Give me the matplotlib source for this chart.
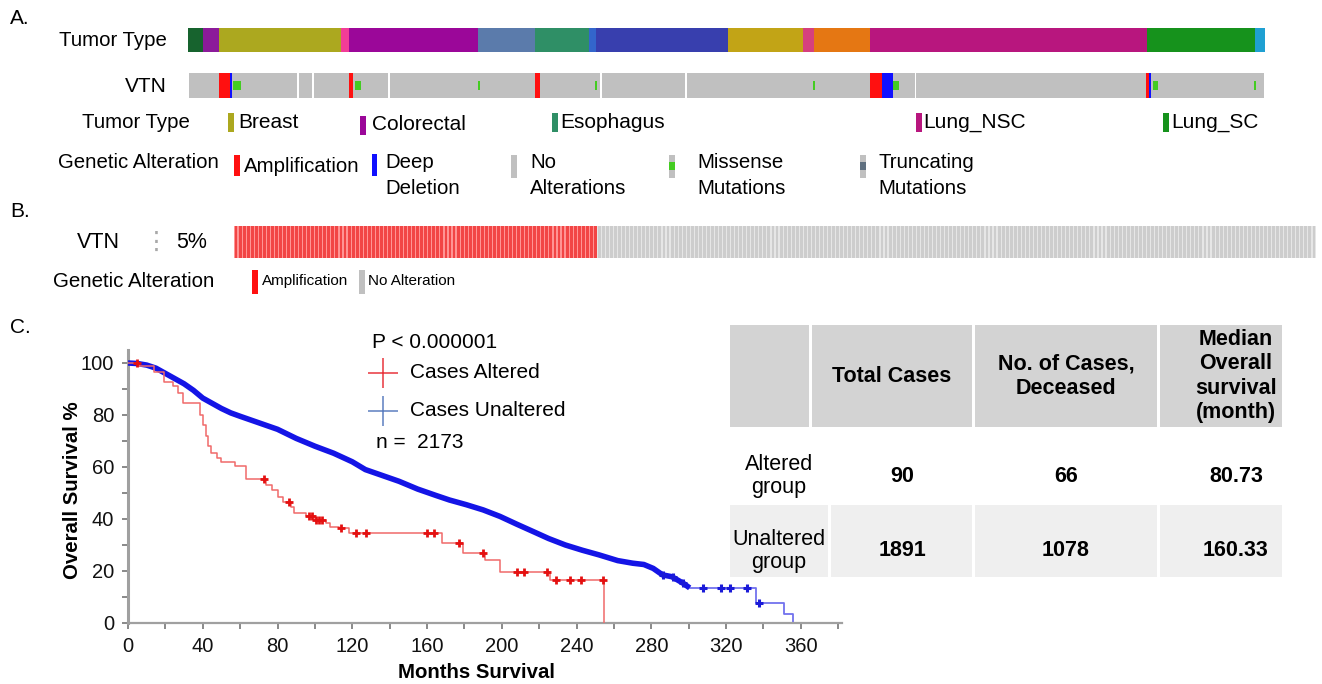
import numpy as np
import matplotlib
matplotlib.use("Agg")
import matplotlib.pyplot as plt
from matplotlib.patches import Rectangle
from matplotlib.lines import Line2D
from matplotlib.ticker import MultipleLocator

plt.rcParams['font.family'] = ['Liberation Sans', 'DejaVu Sans']

# ---------------- data ----------------
# Panel A: tumor type blocks (samples per type, in oncoprint order)
tumor_names = ['Other_1', 'Other_2', 'Breast', 'Other_3', 'Colorectal', 'Other_4',
               'Esophagus', 'Other_5', 'Other_6', 'Other_7', 'Other_8', 'Other_9',
               'Lung_NSC', 'Lung_SC', 'Other_10']
tumor_counts = [30, 32, 245, 16, 258, 114, 108, 14, 264, 150, 22, 112, 553, 216, 21]
tumor_colors = ['#17632e', '#8c1b9a', '#aca81f', '#f23d97', '#9b0799', '#5b7bab',
                '#2f8f66', '#3366cc', '#383fae', '#c2a416', '#d6407e', '#e57713',
                '#b8167e', '#16921c', '#1fa0d2']
legend_tumor_types = ['Breast', 'Colorectal', 'Esophagus', 'Lung_NSC', 'Lung_SC']

# VTN row: sample-block boundaries (white separators) and alterations
vtn_block_edges = [0, 220, 250, 402, 826, 996, 1456, 2155]
vtn_alt_start = [62, 84, 90, 323, 334, 581, 695, 815, 1251, 1365, 1389, 1410, 1917, 1923, 1930, 2133]
vtn_alt_width = [22, 5, 16, 8, 13, 4, 9, 4, 4, 24, 21, 12, 6, 4, 11, 4]
vtn_alt_type = ['amp', 'del', 'mis', 'amp', 'mis', 'mis', 'amp', 'mis', 'mis',
                'amp', 'del', 'mis', 'amp', 'del', 'mis', 'mis']

# Panel B: cases shown
n_amplified = 90
n_not_altered = 178
altered_pct = '5%'

# Panel C: Kaplan-Meier (months, survival %)
red_t = [0, 6, 14, 19, 24, 27, 29.5, 38.5, 40, 41.5, 43, 44.5, 47.5, 50, 57, 63,
         74, 77, 80, 83, 87, 89, 95, 100, 106, 108, 113, 118, 168, 179, 191, 199, 226, 254.5]
red_s = [100, 99, 96.7, 92.8, 91, 88.3, 84.5, 80, 76, 72, 68, 65.3, 63.5, 62, 60.5, 55.5,
         53, 51, 48.5, 46.5, 44.5, 42.5, 41, 39.5, 38.5, 37, 36.4, 34.7, 30.6, 27, 24.3, 19.7, 16.5, 0]
red_censor_t = [5, 72.5, 86, 97, 98.5, 100.5, 102, 104, 114, 122, 127.5, 160, 163.5,
                177, 190, 208, 212, 224, 229, 236.5, 242.5, 254]

blue_t = [0, 5, 10, 15, 20, 25, 30, 35, 40, 45, 50, 55, 60, 70, 80, 90, 100, 110, 120,
          127, 135, 145, 155, 165, 172, 181, 190, 199, 208, 217, 225, 234, 243, 252,
          262, 270, 276, 281, 286, 291, 297, 300.5, 336, 351, 356]
blue_s = [100, 99.8, 99.2, 98, 96, 94, 92, 89.5, 86.5, 84.5, 82.5, 80.8, 79.5, 77, 74.5,
          71, 68, 65.3, 62, 59, 57, 54.5, 51.5, 49, 47.3, 45.5, 43.5, 41, 38, 35.1, 32.5,
          30, 28, 26.2, 24, 23, 22.5, 21, 18.5, 17.8, 15.3, 13.5, 7.7, 3.5, 0]
blue_dense_end = 300.5
blue_censor_t = [286.3, 291.6, 297, 307.7, 317.5, 322, 331, 337.5]

p_value_text = 'P < 0.000001'
n_total = 2173

table_header = ['', 'Total Cases', 'No. of Cases,\nDeceased', 'Median\nOverall\nsurvival\n(month)']
table_groups = ['Altered\ngroup', 'Unaltered\ngroup']
table_total = ['90', '1891']
table_deceased = ['66', '1078']
table_median = ['80.73', '160.33']

# ---------------- helpers ----------------
W, H = 1322, 684
fig = plt.figure(figsize=(W / 100, H / 100), dpi=100)
fig.patch.set_facecolor('white')


def px_ax(x, y, w, h):
    a = fig.add_axes([x / W, 1 - (y + h) / H, w / W, h / H])
    return a


def T(x, y, s, size=14.7, **kw):
    kw.setdefault('va', 'center')
    kw.setdefault('ha', 'left')
    return fig.text(x / W, 1 - y / H, s, fontsize=size, **kw)


def R(x, y, w, h, color):
    fig.add_artist(Rectangle((x / W, 1 - (y + h) / H), w / W, h / H,
                             transform=fig.transFigure, facecolor=color, lw=0))


def strip(a):
    a.set_axis_off()


# ---------------- Panel A ----------------
T(10, 18, 'A.', size=15)
T(167, 40, 'Tumor Type', ha='right')
T(167, 86, 'VTN', ha='right', size=15)

total = sum(tumor_counts)
ax_tt = px_ax(188, 28, 1077, 24)
left = np.concatenate([[0], np.cumsum(tumor_counts)[:-1]])
ax_tt.barh(0, tumor_counts, left=left, height=1, color=tumor_colors, lw=0)
ax_tt.set_xlim(0, total)
ax_tt.set_ylim(-0.5, 0.5)
strip(ax_tt)

ax_v = px_ax(188, 73, 1077, 25)
edges = np.array(vtn_block_edges)
ax_v.barh(0, np.diff(edges) - 3, left=edges[:-1] + 1.5, height=1, color='#c0c0c0', lw=0)
alt_colors = {'amp': '#ff1010', 'del': '#1010ff', 'mis': '#44cc22'}
alt_heights = {'amp': 1.0, 'del': 1.0, 'mis': 0.36}
for s0, w0, ty in zip(vtn_alt_start, vtn_alt_width, vtn_alt_type):
    ax_v.barh(0, w0, left=s0, height=alt_heights[ty], color=alt_colors[ty], lw=0)
ax_v.set_xlim(0, total)
ax_v.set_ylim(-0.5, 0.5)
strip(ax_v)

# Tumor type legend
T(82, 122, 'Tumor Type')
leg_x = {'Breast': (228, 238, 122), 'Colorectal': (360, 372, 125), 'Esophagus': (552, 560, 122),
         'Lung_NSC': (916, 923, 122), 'Lung_SC': (1163, 1171, 122)}
for name in legend_tumor_types:
    sx, tx, ty = leg_x[name]
    R(sx, ty - 9, 6, 19, tumor_colors[tumor_names.index(name)])
    T(tx, ty, name, size=15)

# Genetic alteration legend
T(58, 163, 'Genetic Alteration')
R(234, 155, 6, 21, '#ff1010')
T(244, 167, 'Amplification')
R(372, 154, 5, 22, '#1010ff')
T(385, 163, 'Deep')
T(385, 188, 'Deletion')
R(511, 155, 6, 23, '#c0c0c0')
T(530, 163, 'No')
T(530, 188, 'Alterations')
R(669, 155, 6, 23, '#c0c0c0')
R(669, 162, 6, 8, '#44cc22')
T(697, 163, 'Missense')
T(697, 188, 'Mutations')
R(860, 155, 6, 23, '#c0c0c0')
R(860, 162, 6, 8, '#607080')
T(878, 163, 'Truncating')
T(878, 188, 'Mutations')

# ---------------- Panel B ----------------
T(10, 212, 'B.', size=15)
T(77, 242, 'VTN', size=15.5)
T(156, 242, '\u22ee', size=18, ha='center', color='#a8a8a8', family='DejaVu Sans')
T(176, 242, altered_pct, size=15.5)

ax_b = px_ax(234, 226, 1082, 32)
n_b = n_amplified + n_not_altered
xs = np.arange(n_b)
light = ['#ff9494'] * n_amplified + ['#e6e6e6'] * n_not_altered
dark = ['#f24545'] * n_amplified + ['#cdcdcd'] * n_not_altered
ax_b.bar(xs, 1, width=1.0, color=light, lw=0)
ax_b.bar(xs, 1, width=0.72, color=dark, lw=0)
ax_b.set_xlim(-0.5, n_b - 0.5)
ax_b.set_ylim(0, 1)
strip(ax_b)

T(53, 282, 'Genetic Alteration', size=14.8)
R(252, 270, 6, 24, '#ff1010')
T(262, 281, 'Amplification', size=11)
R(359, 270, 6, 24, '#c0c0c0')
T(368, 281, 'No Alteration', size=11)

# ---------------- Panel C ----------------
T(10, 327, 'C.', size=15)
ax = px_ax(128, 350, 714, 273)
rt, rs = np.array(red_t), np.array(red_s)
bt, bs = np.array(blue_t), np.array(blue_s)


def step_at(tt, ss, q):
    idx = np.searchsorted(tt, q, side='right') - 1
    return ss[idx]


dense = bt <= blue_dense_end
tail = bt >= blue_dense_end
ax.plot(bt[tail], bs[tail], drawstyle='steps-post', color='#7272ee', lw=1.3, zorder=2)
ax.plot(bt[dense], bs[dense], color='#1414e6', lw=4.0, solid_capstyle='butt', zorder=3)
bc = np.array(blue_censor_t)
ax.plot(bc, step_at(bt, bs, bc), ls='none', marker='+', ms=6, mew=2.2, color='#1a1ad8', zorder=4)

ax.plot(rt, rs, drawstyle='steps-post', color='#f06a6a', lw=1.1, zorder=5)
rc = np.array(red_censor_t)
ax.plot(rc, step_at(rt, rs, rc), ls='none', marker='+', ms=6, mew=2.0, color='#e41010', zorder=6)

ax.set_xlim(0, 382)
ax.set_ylim(0, 105)
for sp in ['top', 'right']:
    ax.spines[sp].set_visible(False)
ax.spines['left'].set_color('#a0a0a0')
ax.spines['left'].set_linewidth(2.2)
ax.spines['bottom'].set_color('#a0a0a0')
ax.spines['bottom'].set_linewidth(1.6)
ax.set_xticks(np.arange(0, 361, 40))
ax.set_yticks(np.arange(0, 101, 20))
ax.xaxis.set_minor_locator(MultipleLocator(20))
ax.yaxis.set_minor_locator(MultipleLocator(10))
ax.tick_params(which='both', direction='out', length=4, width=1.3, color='#808080',
               labelsize=14.5, pad=6, labelcolor='#111111')
ax.patch.set_alpha(0)

T(73, 490, 'Overall Survival %', ha='center', rotation=90, fontweight='bold', size=14.7)
T(477, 673, 'Months Survival', ha='center', fontweight='bold', size=14.7)

# legend
T(372, 342, p_value_text, size=15)
fig.add_artist(Line2D([383 / W], [1 - 373 / H], transform=fig.transFigure, marker='+',
                      ms=21, mew=1.1, color='#e8353d', ls='none'))
fig.add_artist(Line2D([383 / W], [1 - 411 / H], transform=fig.transFigure, marker='+',
                      ms=21, mew=1.1, color='#5c7fc0', ls='none'))
T(410, 372, 'Cases Altered', size=15)
T(410, 410, 'Cases Unaltered', size=15)
T(376, 443, 'n =  %d' % n_total, size=15)

# ---------------- table ----------------
hdr_cells = [(730, 809), (812, 972), (975, 1157), (1160, 1282)]
for x0, x1 in hdr_cells:
    R(x0, 325, x1 - x0, 102, '#d3d3d3')
row2_cells = [(730, 828), (831, 972), (975, 1157), (1160, 1282)]
for x0, x1 in row2_cells:
    R(x0, 505, x1 - x0, 72, '#efefef')

col_x = [779, 892, 1066, 1236]
hdr_y = 376
for cx, txt in zip(col_x[1:], table_header[1:]):
    T(cx, hdr_y, txt, size=15.5, ha='center', fontweight='bold', linespacing=1.2)

row_y = [476, 551]
for i, ry in enumerate(row_y):
    T(col_x[0], ry, table_groups[i], size=15.5, ha='center', linespacing=1.15)
    T(902, ry, table_total[i], size=15.5, ha='center', fontweight='bold')
    T(col_x[2], ry, table_deceased[i], size=15.5, ha='center', fontweight='bold')
    T(col_x[3], ry, table_median[i], size=15.5, ha='center', fontweight='bold')

fig.savefig('out.png', dpi=100)
